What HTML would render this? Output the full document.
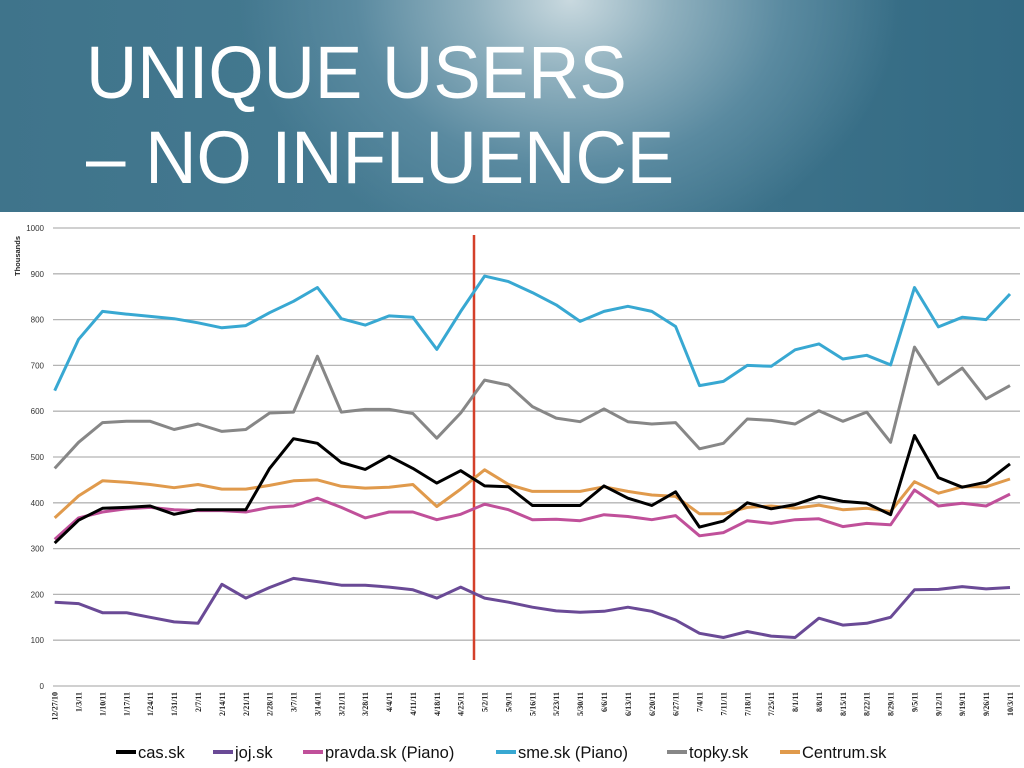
<!DOCTYPE html>
<html><head><meta charset="utf-8">
<style>
html,body{margin:0;padding:0;width:1024px;height:768px;overflow:hidden;background:#fff;font-family:"Liberation Sans",sans-serif}
#hdr{position:absolute;left:0;top:0;width:1024px;height:212px;
background:radial-gradient(ellipse 330px 260px at 570px 0px,#c9d9df 0%,#8fb0be 30%,#5a8aa0 65%,rgba(58,112,136,0) 100%),linear-gradient(90deg,#3f748b 0%,#457a91 40%,#3b7189 75%,#336a83 100%);}
.t{position:absolute;left:86px;color:#fff;font-size:74px;line-height:1;transform:scaleX(0.96);transform-origin:left;white-space:nowrap}
</style></head><body>
<div id="hdr">
<div class="t" style="top:36px">UNIQUE USERS</div>
<div class="t" style="top:121px">– NO INFLUENCE</div>
</div>
<svg id="chart" width="1024" height="768" style="position:absolute;left:0;top:0"></svg>
<script>
const categories=["12/27/10","1/3/11","1/10/11","1/17/11","1/24/11","1/31/11","2/7/11","2/14/11","2/21/11","2/28/11","3/7/11","3/14/11","3/21/11","3/28/11","4/4/11","4/11/11","4/18/11","4/25/11","5/2/11","5/9/11","5/16/11","5/23/11","5/30/11","6/6/11","6/13/11","6/20/11","6/27/11","7/4/11","7/11/11","7/18/11","7/25/11","8/1/11","8/8/11","8/15/11","8/22/11","8/29/11","9/5/11","9/12/11","9/19/11","9/26/11","10/3/11"];
const yTicks=[0,100,200,300,400,500,600,700,800,900,1000];
const seriesNames=["cas.sk","joj.sk","pravda.sk (Piano)","sme.sk (Piano)","topky.sk","Centrum.sk"];
const seriesColors=["#000000","#6a4a96","#c0509a","#38a8d2","#878787","#e09a4c"];
const cas=[312,362,388,390,393,375,385,385,385,475,540,530,488,473,502,475,443,470,437,435,394,394,394,437,410,394,424,347,360,400,387,396,414,403,399,374,547,455,434,445,485];
const joj=[183,180,160,160,150,140,137,222,192,215,235,228,220,220,216,210,192,216,192,183,172,164,161,163,172,163,144,115,106,119,109,106,148,133,137,150,210,211,217,212,215];
const pravda=[320,367,380,387,390,385,383,383,380,390,393,410,390,367,380,380,363,375,397,385,363,364,361,374,370,363,372,328,335,361,355,363,365,348,355,352,428,393,399,393,419];
const sme=[645,757,818,812,807,802,793,782,787,815,840,870,802,788,808,805,735,818,895,883,859,832,796,818,829,818,785,656,665,700,698,734,747,714,722,701,870,784,805,800,856];
const topky=[475,532,575,578,578,560,572,556,560,596,598,720,598,604,604,595,541,596,668,657,610,585,577,605,577,572,575,518,530,583,580,572,601,578,598,532,740,659,694,627,656];
const centrum=[367,415,448,445,440,433,440,430,430,438,448,450,436,432,434,440,392,430,472,440,425,425,425,435,425,417,414,376,376,390,393,388,395,385,388,381,446,421,435,435,452];
const seriesData=[cas,joj,pravda,sme,topky,centrum];
const legendX=[116,213,303,496,667,780];

const NS="http://www.w3.org/2000/svg";
const svg=document.getElementById('chart');
const X0=54.7,X1=1010,Y0=686,Y1=228,XL=40,XR=1020;
function xs(i){return X0+(X1-X0)*i/(categories.length-1);}
function ys(v){return Y0+(Y1-Y0)*v/1000;}
function mk(t,a){const e=document.createElementNS(NS,t);for(const k in a)e.setAttribute(k,a[k]);svg.appendChild(e);return e;}

yTicks.forEach(v=>{
  const l=mk('line',{x1:XL+13,x2:XR,y1:ys(v),y2:ys(v),stroke:'#b4b4b4','stroke-width':1.3});
  
  
  const t=mk('text',{x:44,y:ys(v)+3,'text-anchor':'end','font-size':8,fill:'#333'});
  t.textContent=v;
  
  
});
const yt=mk('text',{x:0,y:0,'font-size':7.5,'font-weight':'bold',fill:'#222',transform:'translate(20,276) rotate(-90)'});
yt.textContent='Thousands';



categories.forEach((c,i)=>{
  const t=mk('text',{x:0,y:0,'text-anchor':'end','font-size':8,'font-weight':'bold',fill:'#222','font-family':'Liberation Serif, serif',transform:`translate(${xs(i)+3},692) rotate(-90)`});
  t.textContent=c;
  
  
});

const rl=mk('line',{x1:474,x2:474,y1:235,y2:660,stroke:'#d4402a','stroke-width':2.5});



const order=[1,2,5,0,4,3];
order.forEach(s=>{
  const pts=seriesData[s].map((v,i)=>xs(i).toFixed(1)+','+ys(v).toFixed(1)).join(' ');
  const p=mk('polyline',{points:pts,fill:'none',stroke:seriesColors[s],'stroke-width':3,'stroke-linejoin':'round'});
  
  
});

seriesNames.forEach((n,s)=>{
  const g=document.createElementNS(NS,'g');svg.appendChild(g);
  
  
  const l=document.createElementNS(NS,'line');
  l.setAttribute('x1',legendX[s]);l.setAttribute('x2',legendX[s]+20);l.setAttribute('y1',752);l.setAttribute('y2',752);
  l.setAttribute('stroke',seriesColors[s]);l.setAttribute('stroke-width',4);
  g.appendChild(l);
  const t=document.createElementNS(NS,'text');
  t.setAttribute('x',legendX[s]+22);t.setAttribute('y',758);t.setAttribute('font-size',16.5);t.setAttribute('fill','#111');
  t.textContent=n;g.appendChild(t);
});
</script>
</body></html>
